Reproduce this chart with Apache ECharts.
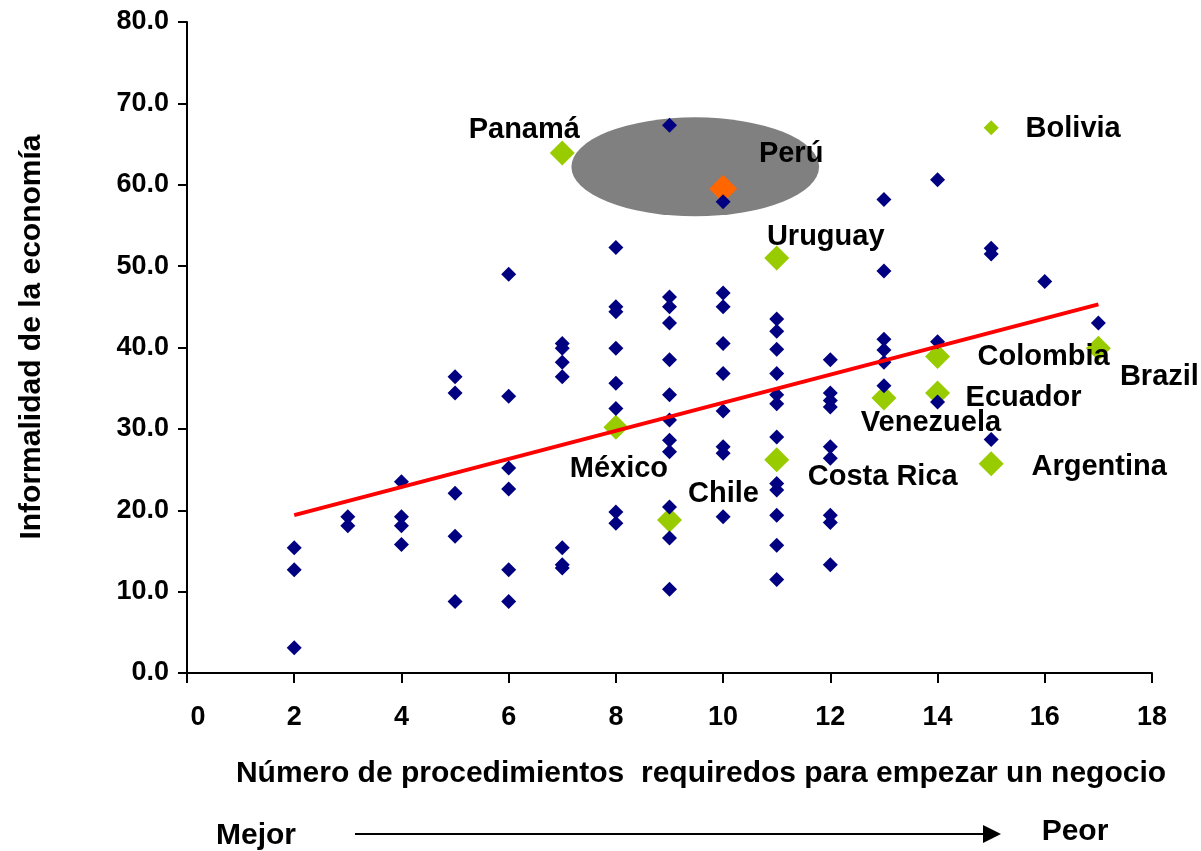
<!DOCTYPE html>
<html>
<head>
<meta charset="utf-8">
<script src="https://cdn.jsdelivr.net/npm/echarts@6/dist/echarts.min.js"></script>
<style>html,body{margin:0;padding:0;background:#fff}#c{width:1201px;height:851px}</style>
</head>
<body>
<div id="c"></div>
<script>
// ---- data ----
const blueX = [
  2,2,2,
  3,3,
  4,4,4,4,
  5,5,5,5,5,
  6,6,6,6,6,6,
  7,7,7,7,7,7,7,
  8,8,8,8,8,8,8,8,
  9,9,9,9,9,9,9,9,9,9,9,9,
  10,10,10,10,10,10,10,10,10,
  11,11,11,11,11,11,11,11,11,11,11,11,
  12,12,12,12,12,12,12,12,12,
  13,13,13,13,13,13,
  14,14,14,
  15,15,15,
  16,
  17
];
const blueY = [
  15.4,12.7,3.1,
  19.2,18.1,
  23.5,19.2,18.1,15.8,
  36.4,34.4,22.1,16.8,8.8,
  49.0,34.0,25.2,22.6,12.7,8.8,
  40.5,39.9,38.2,36.4,15.4,13.3,12.9,
  52.3,45.0,44.4,39.9,35.6,32.5,19.8,18.4,
  67.3,46.2,45.0,43.0,38.5,34.2,31.1,28.6,27.2,20.4,16.6,10.3,
  57.9,46.7,45.0,40.5,36.8,32.2,27.8,27.0,19.2,
  43.5,42.0,39.8,36.8,34.2,33.1,29.0,23.3,22.5,19.4,15.7,11.5,
  38.5,34.4,33.5,32.7,27.8,26.4,19.4,18.5,13.3,
  58.2,49.4,41.0,39.7,38.2,35.3,
  60.6,40.7,33.3,
  52.2,51.5,28.7,
  48.1,
  43.0
];
const countryNames = ['Panamá','Perú','Uruguay','Bolivia','Colombia','Brazil','Ecuador','Venezuela','Argentina','Costa Rica','Chile','México'];
const countryX = [7,10,11,15,14,17,14,13,15,11,9,8];
const countryY = [63.9,59.5,51.0,67.0,38.9,39.9,34.4,33.8,25.7,26.2,18.8,30.2];
const trendX = [2,17];
const trendY = [19.4,45.3];
const xTicks = {min:0,max:18,interval:2};
const yTicks = {min:0,max:80,interval:10};

// ---- presentation (not data) ----
const FONT = '"Liberation Sans", Arial, sans-serif';
const labelOffset = {
  'Panamá':[-38,-23],'Perú':[68,-35],'Uruguay':[49,-21],'Bolivia':[82,1],
  'Colombia':[106,1],'Brazil':[61,29],'Ecuador':[86,5],'Venezuela':[47,25],
  'Argentina':[108,3],'Costa Rica':[106,17],'Chile':[54,-26],'México':[3,42]
};
const specialStyle = {
  'Perú':{color:'#FF6600',size:28},
  'Bolivia':{color:'#99CC00',size:15}
};
const ellipseSpec = {cx:9.48, cy:62.2, rx:2.31, ry:6.08};

const chart = echarts.init(document.getElementById('c'), null, {renderer:'canvas'});

const blueData = blueX.map((x,i)=>[x,blueY[i]]);
const countryData = countryNames.map((n,i)=>{
  const sp = specialStyle[n] || {color:'#99CC00',size:25};
  return {
    name:n, value:[countryX[i],countryY[i]],
    symbolSize:sp.size,
    itemStyle:{color:sp.color,opacity:1}
  };
});

const option = {
  animation:false,
  backgroundColor:'#fff',
  grid:{left:187,right:49,top:22,bottom:178,containLabel:false},
  xAxis:{
    type:'value', min:xTicks.min, max:xTicks.max, interval:xTicks.interval,
    axisLine:{show:true,onZero:false,lineStyle:{color:'#000',width:2}},
    axisTick:{show:true,inside:false,length:10,lineStyle:{color:'#000',width:2}},
    splitLine:{show:false},
    axisLabel:{
      margin:31, color:'#000', fontFamily:FONT, fontWeight:'bold', fontSize:27,
      formatter:v=> v===0 ? '{z|0}' : String(v),
      rich:{z:{padding:[0,0,0,22],fontFamily:FONT,fontWeight:'bold',fontSize:27,color:'#000'}}
    }
  },
  yAxis:{
    type:'value', min:yTicks.min, max:yTicks.max, interval:yTicks.interval,
    axisLine:{show:true,onZero:false,lineStyle:{color:'#000',width:2}},
    axisTick:{show:true,inside:false,length:9,lineStyle:{color:'#000',width:2}},
    splitLine:{show:false},
    axisLabel:{margin:18,color:'#000',fontFamily:FONT,fontWeight:'bold',fontSize:27,
      formatter:v=>v.toFixed(1)}
  },
  series:[
    {
      type:'custom', z:1, silent:true,
      data:[[ellipseSpec.cx, ellipseSpec.cy]],
      renderItem:function(params, api){
        const c = api.coord([api.value(0), api.value(1)]);
        const s = api.size([ellipseSpec.rx, ellipseSpec.ry]);
        return {
          type:'circle',
          x:c[0], y:c[1],
          scaleX:s[0]/s[1], scaleY:1,
          shape:{cx:0,cy:0,r:s[1]},
          style:{fill:'#808080',stroke:null}
        };
      }
    },
    {
      type:'scatter', z:2, symbol:'diamond',
      itemStyle:{opacity:1},
      data:countryData,
      label:{show:true,position:'inside',formatter:'{b}',color:'#000',opacity:1,
        fontFamily:FONT,fontWeight:'bold',fontSize:29,align:'center',verticalAlign:'middle'},
      labelLayout:function(params){
        const o = labelOffset[countryNames[params.dataIndex]] || [0,0];
        return {dx:o[0], dy:o[1], hideOverlap:false, moveOverlap:null};
      }
    },
    {
      type:'scatter', z:3, symbol:'diamond', symbolSize:15,
      itemStyle:{color:'#000080',opacity:1},
      data:blueData
    },
    {
      type:'line', z:4, symbol:'none', silent:true,
      lineStyle:{color:'#FF0000',width:4},
      data:trendX.map((x,i)=>[x,trendY[i]])
    }
  ],
  graphic:[
    {type:'text', x:32, y:337, rotation:Math.PI/2,
      style:{text:'Informalidad de la economía', font:'bold 30px '+FONT, fill:'#000',
        textAlign:'center', textVerticalAlign:'middle'}},
    {type:'text', x:701, y:774,
      style:{text:'Número de procedimientos  requiredos para empezar un negocio', font:'bold 30px '+FONT, fill:'#000',
        textAlign:'center', textVerticalAlign:'middle'}},
    {type:'text', x:256, y:836,
      style:{text:'Mejor', font:'bold 30px '+FONT, fill:'#000', textAlign:'center', textVerticalAlign:'middle'}},
    {type:'text', x:1075, y:832,
      style:{text:'Peor', font:'bold 30px '+FONT, fill:'#000', textAlign:'center', textVerticalAlign:'middle'}},
    {type:'line', shape:{x1:355,y1:834,x2:986,y2:834}, style:{stroke:'#000',lineWidth:2}},
    {type:'polygon', shape:{points:[[983,825],[1001,834],[983,843]]}, style:{fill:'#000'}}
  ]
};
chart.setOption(option);
</script>
</body>
</html>
